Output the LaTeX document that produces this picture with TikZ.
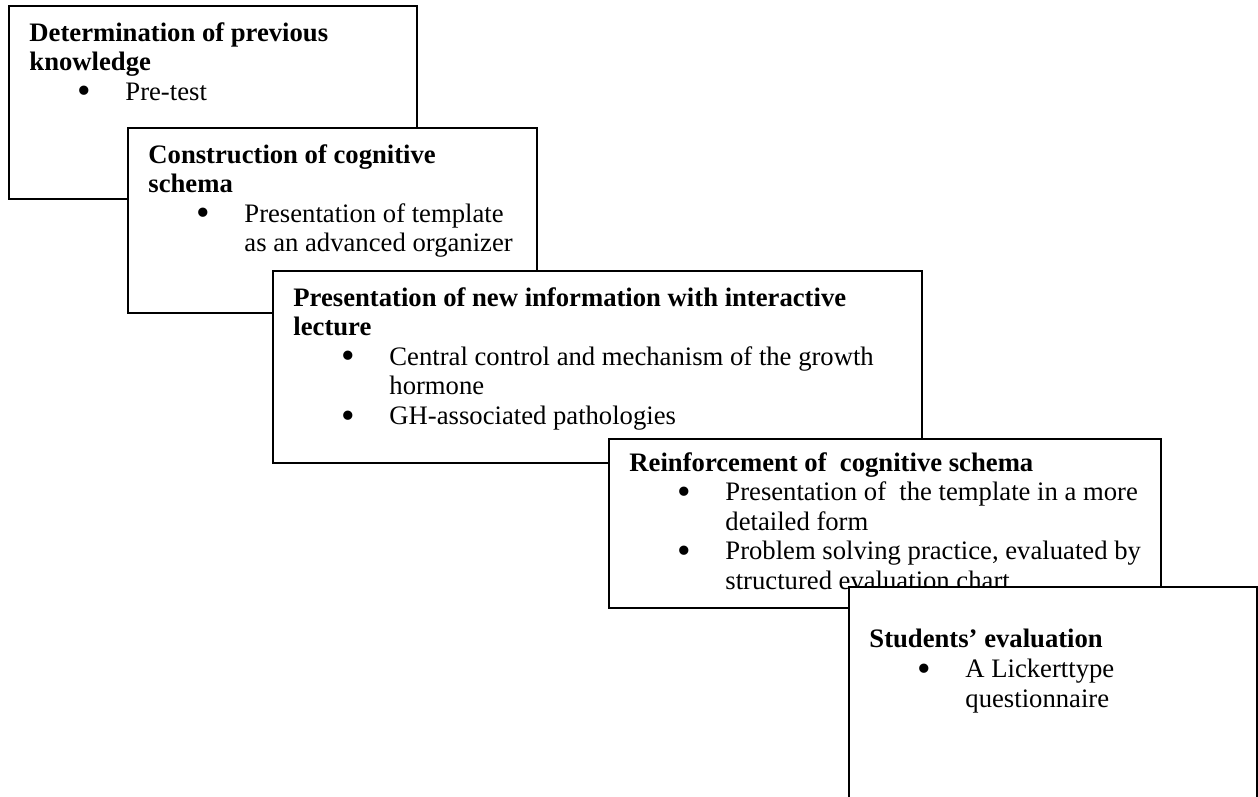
\documentclass[tikz,border=0pt]{standalone}
\usepackage{fontspec}
\setmainfont{Liberation Serif}
\usetikzlibrary{positioning}

\tikzset{
  stagebox/.style={draw, line width=1pt, fill=white, rectangle, anchor=north west, inner sep=0pt},
  stagetext/.style={anchor=north west, inner sep=0pt, align=left, font=\fontsize{12}{13.3}\selectfont}
}
\newcommand{\bul}[1]{\makebox[43.2pt][l]{\hspace*{21.4pt}\raisebox{-1.6pt}{\scalebox{1.45}{\textbullet}}}#1}
\newcommand{\cont}[1]{\hspace*{43.2pt}#1}

\begin{document}
\begin{tikzpicture}[x=0.45pt,y=-0.45pt]
		\useasboundingbox (0,0) rectangle (1258,796);
		\fill[white] (0,0) rectangle (1258,796);
		\clip (0,0) rectangle (1258,796);
		%previous knowledge
		\node[stagebox, minimum width=183.6pt, minimum height=86.85pt] (prior) at (8,5) {};
		\node[stagetext] (priortxt) at ([shift={(21,17)}]prior.north west)
		{\textbf{Determination of previous}\\\textbf{knowledge}\\\bul{Pre-test}};
		%construction
		\node[stagebox, minimum width=184.05pt, minimum height=83.25pt] (build) at (127,127) {};
		\node[stagetext] (buildtxt) at ([shift={(21,17)}]build.north west)
		{\textbf{Construction of cognitive}\\\textbf{schema}\\\bul{Presentation of template}\\\cont{as an advanced organizer}};
		%new information
		\node[stagebox, minimum width=292.05pt, minimum height=86.4pt] (lecture) at (272,270) {};
		\node[stagetext] (lecturetxt) at ([shift={(21,17)}]lecture.north west)
		{\textbf{Presentation of new information with interactive}\\\textbf{lecture}\\\bul{Central control and mechanism of the growth}\\\cont{hormone}\\\bul{GH-associated pathologies}};
		%reinforcement
		\node[stagebox, minimum width=248.4pt, minimum height=76.05pt] (reinf) at (608,438) {};
		\node[stagetext] (reinftxt) at ([shift={(21,14)}]reinf.north west)
		{\textbf{Reinforcement of\ \ cognitive schema}\\\bul{Presentation of\ \ the template in a more}\\\cont{detailed form}\\\bul{Problem solving practice, evaluated by}\\\cont{structured evaluation chart}};
		%evaluation
		\node[stagebox, minimum width=183.6pt, minimum height=100.8pt] (eval) at (848,586) {};
		\node[stagetext] (evaltxt) at ([shift={(21,43)}]eval.north west)
		{\textbf{Students’ evaluation}\\\bul{A Lickerttype}\\\cont{questionnaire}};
\end{tikzpicture}
\end{document}
